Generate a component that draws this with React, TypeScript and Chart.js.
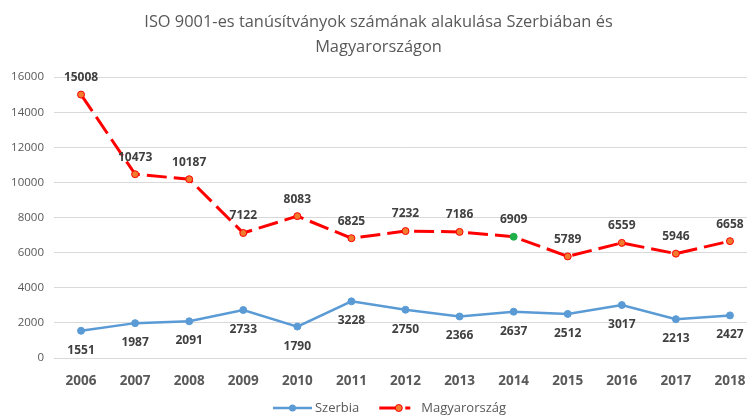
import React, { useEffect, useRef } from "react";
import { Chart, registerables } from "chart.js";

Chart.register(...registerables);

const years = ["2006", "2007", "2008", "2009", "2010", "2011", "2012", "2013", "2014", "2015", "2016", "2017", "2018"];
const szerbia = [1551, 1987, 2091, 2733, 1790, 3228, 2750, 2366, 2637, 2512, 3017, 2213, 2427];
const magyarorszag = [15008, 10473, 10187, 7122, 8083, 6825, 7232, 7186, 6909, 5789, 6559, 5946, 6658];
const seriesNames = ["Szerbia", "Magyarország"];
const titleLines = ["ISO 9001-es tanúsítványok számának alakulása Szerbiában és", "Magyarországon"];
const yMin = 0;
const yMax = 16000;
const yStep = 2000;

const BLUE = "#5B9BD5";
const RED = "#FF0000";
const ORANGE = "#F07A2E";
const GREEN = "#1FB04A";
const TEXT = "#595959";
const LABEL = "#404040";
const FONT = "'Open Sans', 'Noto Sans', sans-serif";
const DASH = [20, 7];

const labelPlugin = {
  id: "valueLabels",
  afterDatasetsDraw(chart: any) {
    const ctx = chart.ctx;
    ctx.save();
    ctx.font = `bold 12px ${FONT}`;
    ctx.fillStyle = LABEL;
    ctx.textAlign = "center";
    ctx.textBaseline = "middle";
    chart.data.datasets.forEach((ds: any, di: number) => {
      const meta = chart.getDatasetMeta(di);
      meta.data.forEach((pt: any, i: number) => {
        const v = ds.data[i];
        const dy = di === 0 ? 19.5 : -17;
        ctx.fillText(String(v), pt.x, pt.y + dy);
      });
    });
    ctx.restore();
  },
};

const legendPlugin = {
  id: "customLegend",
  afterDraw(chart: any) {
    const ctx = chart.ctx;
    ctx.save();
    ctx.font = `13px ${FONT}`;
    const symW = 39;
    const gapText = 3;
    const gapItem = 20;
    const w0 = ctx.measureText(seriesNames[0]).width;
    const w1 = ctx.measureText(seriesNames[1]).width;
    const total = symW + gapText + w0 + gapItem + symW + gapText + w1;
    const cx = 389.5;
    const y = 408;
    let x = cx - total / 2;
    // Szerbia
    ctx.strokeStyle = BLUE;
    ctx.lineWidth = 2.5;
    ctx.beginPath();
    ctx.moveTo(x, y);
    ctx.lineTo(x + symW, y);
    ctx.stroke();
    ctx.fillStyle = BLUE;
    ctx.beginPath();
    ctx.arc(x + symW / 2, y, 3.5, 0, Math.PI * 2);
    ctx.fill();
    ctx.fillStyle = TEXT;
    ctx.textBaseline = "middle";
    ctx.textAlign = "left";
    ctx.fillText(seriesNames[0], x + symW + gapText, y);
    x += symW + gapText + w0 + gapItem;
    // Magyarország
    ctx.strokeStyle = RED;
    ctx.lineWidth = 3;
    ctx.setLineDash([20, 6, 6, 20]);
    ctx.beginPath();
    ctx.moveTo(x, y);
    ctx.lineTo(x + symW - 8, y);
    ctx.stroke();
    ctx.setLineDash([]);
    ctx.fillStyle = ORANGE;
    ctx.strokeStyle = RED;
    ctx.lineWidth = 1;
    ctx.beginPath();
    ctx.arc(x + symW / 2, y, 3.5, 0, Math.PI * 2);
    ctx.fill();
    ctx.stroke();
    ctx.fillStyle = TEXT;
    ctx.fillText(seriesNames[1], x + symW + gapText, y);
    ctx.restore();
  },
};

export default function App() {
  const ref = useRef<HTMLCanvasElement | null>(null);
  useEffect(() => {
    if (!ref.current) return;
    const pointBg = magyarorszag.map((_, i) => (i === 8 ? GREEN : ORANGE));
    const pointBorder = magyarorszag.map((_, i) => (i === 8 ? GREEN : RED));
    const chart = new Chart(ref.current, {
      type: "line",
      data: {
        labels: years,
        datasets: [
          {
            label: seriesNames[0],
            data: szerbia,
            borderColor: BLUE,
            backgroundColor: BLUE,
            borderWidth: 2.5,
            pointRadius: 3.5,
            pointBackgroundColor: BLUE,
            pointBorderColor: BLUE,
            pointBorderWidth: 1,
            tension: 0,
          },
          {
            label: seriesNames[1],
            data: magyarorszag,
            borderColor: RED,
            backgroundColor: ORANGE,
            borderWidth: 3,
            borderDash: DASH,
            pointRadius: 3.5,
            pointBackgroundColor: pointBg,
            pointBorderColor: pointBorder,
            pointBorderWidth: 1,
            tension: 0,
          },
        ],
      },
      options: {
        responsive: false,
        animation: false,
        devicePixelRatio: 1,
        layout: { padding: { left: 0, right: 13, top: 0, bottom: 18 } },
        plugins: {
          legend: { display: false },
          tooltip: { enabled: false },
          title: {
            display: true,
            text: titleLines,
            color: TEXT,
            font: { family: FONT, size: 16.4, weight: "normal", lineHeight: 1.53 },
            padding: { top: 10, bottom: 17 },
          },
        },
        scales: {
          x: {
            type: "category",
            offset: true,
            grid: { display: false, drawTicks: false },
            border: { display: false },
            ticks: {
              color: TEXT,
              font: { family: FONT, size: 13.5, weight: "bold" },
              padding: 15,
              maxRotation: 0,
              autoSkip: false,
            },
            afterFit: (s: any) => {
              s.height = 40;
            },
          },
          y: {
            min: yMin,
            max: yMax,
            grid: { color: "#D9D9D9", lineWidth: 1, drawTicks: false },
            border: { display: false },
            ticks: {
              stepSize: yStep,
              color: TEXT,
              font: { family: FONT, size: 11.5 },
              padding: 10,
              callback: (v: any) => String(v),
            },
            afterFit: (s: any) => {
              s.width = 54;
            },
          },
        },
      },
      plugins: [labelPlugin, legendPlugin],
    });
    return () => chart.destroy();
  }, []);
  return (
    <div style={{ position: "fixed", left: 0, top: 0, width: 747, height: 416, overflow: "hidden", background: "#fff" }}>
      <canvas ref={ref} width={770} height={416} style={{ display: "block" }} />
    </div>
  );
}
